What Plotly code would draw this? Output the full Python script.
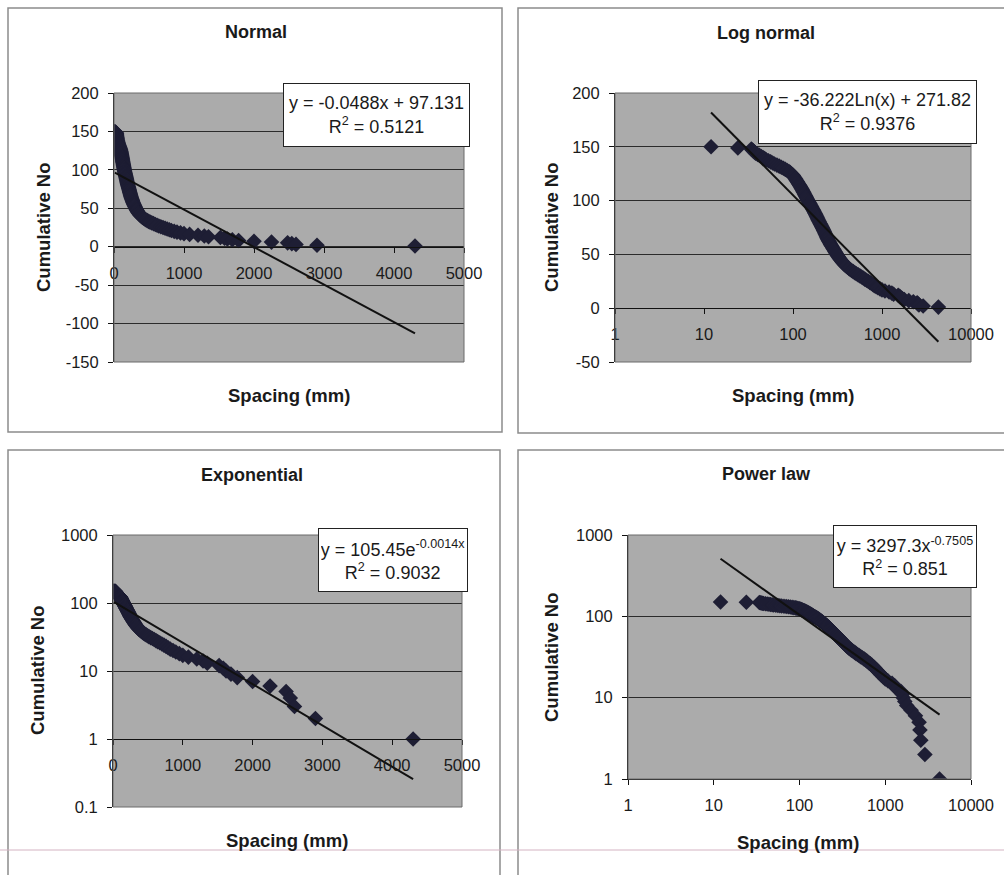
import math
import plotly.graph_objects as go

# ---------------- data ----------------
spacing_mm = [
    12, 24, 34, 35, 36, 37, 38, 40, 42, 44,
    46, 48, 50, 53, 56, 59, 62, 66, 70, 74,
    78, 82, 86, 90, 93, 96, 99, 101, 103, 105,
    107, 109, 111, 113, 115, 117, 119, 121, 123, 125,
    127, 129, 131, 133, 135, 137, 139, 141, 143, 145,
    147, 150, 152, 155, 157, 160, 162, 165, 167, 170,
    172, 175, 177, 180, 182, 185, 187, 190, 192, 195,
    198, 201, 204, 207, 210, 213, 216, 219, 222, 225,
    228, 231, 234, 237, 240, 243, 246, 250, 254, 258,
    262, 266, 270, 275, 280, 285, 290, 295, 300, 305,
    310, 316, 322, 328, 335, 342, 350, 358, 366, 375,
    386, 398, 410, 425, 440, 455, 475, 495, 515, 540,
    565, 590, 615, 640, 670, 700, 730, 760, 790, 820,
    860, 900, 950, 1000, 1080, 1200, 1290, 1350, 1520, 1580,
    1620, 1690, 1780, 2000, 2250, 2480, 2540, 2600, 2900, 4300,
]
cumulative_no = [
    150, 149, 148, 147, 146, 145, 144, 143, 142, 141,
    140, 139, 138, 137, 136, 135, 134, 133, 132, 131,
    130, 129, 128, 127, 126, 125, 124, 123, 122, 121,
    120, 119, 118, 117, 116, 115, 114, 113, 112, 111,
    110, 109, 108, 107, 106, 105, 104, 103, 102, 101,
    100, 99, 98, 97, 96, 95, 94, 93, 92, 91,
    90, 89, 88, 87, 86, 85, 84, 83, 82, 81,
    80, 79, 78, 77, 76, 75, 74, 73, 72, 71,
    70, 69, 68, 67, 66, 65, 64, 63, 62, 61,
    60, 59, 58, 57, 56, 55, 54, 53, 52, 51,
    50, 49, 48, 47, 46, 45, 44, 43, 42, 41,
    40, 39, 38, 37, 36, 35, 34, 33, 32, 31,
    30, 29, 28, 27, 26, 25, 24, 23, 22, 21,
    20, 19, 18, 17, 16, 15, 14, 13, 12, 11,
    10, 9, 8, 7, 6, 5, 4, 3, 2, 1,
]

panel_titles = ["Normal", "Log normal", "Exponential", "Power law"]
x_title = "Spacing (mm)"
y_title = "Cumulative No"

# trend-line coefficients (as printed on the chart)
lin_slope, lin_icpt = -0.0488, 97.131
ln_coef, ln_icpt = -36.222, 271.82
exp_a, exp_b = 105.45, -0.0014
pow_a, pow_b = 3297.3, -0.7505

eq_texts = [
    "y = -0.0488x + 97.131<br>R<sup>2</sup> = 0.5121",
    "y = -36.222Ln(x) + 271.82<br>R<sup>2</sup> = 0.9376",
    "y = 105.45e<sup>-0.0014x</sup><br>R<sup>2</sup> = 0.9032",
    "y = 3297.3x<sup>-0.7505</sup><br>R<sup>2</sup> = 0.851",
]

lin_x_ticks = [0, 1000, 2000, 3000, 4000, 5000]
log_x_ticks = [1, 10, 100, 1000, 10000]
lin_y_ticks = [-150, -100, -50, 0, 50, 100, 150, 200]
lin_y_ticks2 = [-50, 0, 50, 100, 150, 200]
log_y_ticks = [0.1, 1, 10, 100, 1000]
log_y_ticks2 = [1, 10, 100, 1000]

# ---------------- layout helpers ----------------
W, H = 1004, 875
FONT = "Liberation Sans, Arial, sans-serif"
TXT = "#1a1a1a"
PLOT_BG = "#ababab"
GRID = "#2b2b2b"
MARK = "#1e1e34"


def px(x):
    return x / W


def py(y):
    return 1 - y / H


def tl(v):
    return [("-" if t < 0 else "") + f"{abs(t):g}" for t in v]


xmin, xmax = min(spacing_mm), max(spacing_mm)
mk = dict(symbol="diamond", size=12, color=MARK)
ln = dict(color="#111", width=2)

fig = go.Figure()
# panel 1: normal
fig.add_trace(go.Scatter(x=spacing_mm, y=cumulative_no, mode="markers", xaxis="x", yaxis="y", marker=mk))
fig.add_trace(go.Scatter(x=[xmin, xmax], y=[lin_slope * xmin + lin_icpt, lin_slope * xmax + lin_icpt],
                         mode="lines", xaxis="x", yaxis="y", line=ln))
# panel 2: log normal
fig.add_trace(go.Scatter(x=spacing_mm, y=cumulative_no, mode="markers", xaxis="x2", yaxis="y2", marker=mk))
fig.add_trace(go.Scatter(x=[xmin, xmax], y=[ln_coef * math.log(xmin) + ln_icpt, ln_coef * math.log(xmax) + ln_icpt],
                         mode="lines", xaxis="x2", yaxis="y2", line=ln))
# panel 3: exponential
fig.add_trace(go.Scatter(x=spacing_mm, y=cumulative_no, mode="markers", xaxis="x3", yaxis="y3", marker=mk))
fig.add_trace(go.Scatter(x=[xmin, xmax], y=[exp_a * math.exp(exp_b * xmin), exp_a * math.exp(exp_b * xmax)],
                         mode="lines", xaxis="x3", yaxis="y3", line=ln))
# panel 4: power law
fig.add_trace(go.Scatter(x=spacing_mm, y=cumulative_no, mode="markers", xaxis="x4", yaxis="y4", marker=mk))
fig.add_trace(go.Scatter(x=[xmin, xmax], y=[pow_a * xmin ** pow_b, pow_a * xmax ** pow_b],
                         mode="lines", xaxis="x4", yaxis="y4", line=ln))

# plot areas in pixels: (left, right, top, bottom)
areas = [(114, 464, 93, 362), (615, 971, 93, 362), (113, 462, 535, 807), (628, 971, 535, 779)]
doms = [([px(l), px(r)], [py(b), py(t)]) for (l, r, t, b) in areas]


def pos_at(ydom, frac):
    return ydom[0] + frac * (ydom[1] - ydom[0])


tickfont = dict(family=FONT, size=16.5, color=TXT)
common_x = dict(showgrid=False, zeroline=False, showline=True, linecolor="#111", linewidth=1,
                ticks="outside", ticklen=5, tickcolor="#111", tickfont=tickfont, ticklabelstandoff=6,
                automargin=False)
common_y = dict(showgrid=True, gridcolor=GRID, gridwidth=1, zeroline=False, showline=True,
                linecolor="#111", linewidth=1, ticks="outside", ticklen=5, tickcolor="#111",
                tickfont=tickfont, ticklabelstandoff=6, automargin=False)

fig.update_layout(
    xaxis=dict(domain=doms[0][0], range=[0, 5000], tickvals=lin_x_ticks, ticktext=tl(lin_x_ticks),
               anchor="free", position=pos_at(doms[0][1], 150 / 350), **common_x),
    yaxis=dict(domain=doms[0][1], range=[-150, 200], tickvals=lin_y_ticks, ticktext=tl(lin_y_ticks),
               anchor="x", **common_y),
    xaxis2=dict(domain=doms[1][0], type="log", range=[0, 4], tickvals=log_x_ticks, ticktext=tl(log_x_ticks),
                anchor="free", position=pos_at(doms[1][1], 50 / 250), **common_x),
    yaxis2=dict(domain=doms[1][1], range=[-50, 200], tickvals=lin_y_ticks2, ticktext=tl(lin_y_ticks2),
                anchor="x2", **common_y),
    xaxis3=dict(domain=doms[2][0], range=[0, 5000], tickvals=lin_x_ticks, ticktext=tl(lin_x_ticks),
                anchor="free", position=pos_at(doms[2][1], 1 / 4), **common_x),
    yaxis3=dict(domain=doms[2][1], type="log", range=[-1, 3], tickvals=log_y_ticks, ticktext=tl(log_y_ticks),
                anchor="x3", **common_y),
    xaxis4=dict(domain=doms[3][0], type="log", range=[0, 4], tickvals=log_x_ticks, ticktext=tl(log_x_ticks),
                anchor="y4", **common_x),
    yaxis4=dict(domain=doms[3][1], type="log", range=[0, 3], tickvals=log_y_ticks2, ticktext=tl(log_y_ticks2),
                anchor="x4", **common_y),
)

shapes = []
# panel frames
for (l, r, t, b) in [(8, 502, 8, 432), (518, 1010, 8, 433), (8, 500, 450, 885), (518, 1010, 450, 885)]:
    shapes.append(dict(type="rect", xref="paper", yref="paper", x0=px(l), x1=px(r), y0=py(b), y1=py(t),
                       line=dict(color="#8c8c8c", width=1.5), layer="below"))
# plot-area borders
for ax in ["", "2", "3", "4"]:
    shapes.append(dict(type="rect", xref=f"x{ax} domain", yref=f"y{ax} domain", x0=0, x1=1, y0=0, y1=1,
                       line=dict(color="#6a6a6a", width=1), layer="above"))
# faint page line near the bottom
shapes.append(dict(type="line", xref="paper", yref="paper", x0=0, x1=1, y0=py(850), y1=py(850),
                   line=dict(color="#d4b3c2", width=1)))

annotations = []
title_pos = [(256, 32), (766, 33), (252, 475), (766, 474)]
xt_pos = [(289, 395), (793, 395), (287, 840), (798, 842)]
yt_pos = [(43, 227), (551, 227), (37, 670), (551, 657)]
for i in range(4):
    annotations.append(dict(text=f"<b>{panel_titles[i]}</b>", xref="paper", yref="paper",
                            x=px(title_pos[i][0]), y=py(title_pos[i][1]), showarrow=False,
                            xanchor="center", yanchor="middle", font=dict(family=FONT, size=18, color=TXT)))
    annotations.append(dict(text=f"<b>{x_title}</b>", xref="paper", yref="paper",
                            x=px(xt_pos[i][0]), y=py(xt_pos[i][1]), showarrow=False,
                            xanchor="center", yanchor="middle", font=dict(family=FONT, size=18.5, color=TXT)))
    annotations.append(dict(text=f"<b>{y_title}</b>", xref="paper", yref="paper", textangle=-90,
                            x=px(yt_pos[i][0]), y=py(yt_pos[i][1]), showarrow=False,
                            xanchor="center", yanchor="middle", font=dict(family=FONT, size=18.5, color=TXT)))

# equation boxes (left, right, top, bottom)
boxes = [(283, 470, 83, 147), (758, 977, 80, 144), (318, 468, 528, 592), (833, 977, 525, 588)]
for i, (l, r, t, b) in enumerate(boxes):
    annotations.append(dict(text=eq_texts[i], xref="paper", yref="paper", x=px(l), y=py(t),
                            xanchor="left", yanchor="top", showarrow=False, align="center",
                            width=(r - l) - 6, height=(b - t) - 6, borderpad=2, borderwidth=1,
                            bordercolor="#222", bgcolor="white",
                            font=dict(family=FONT, size=18, color=TXT)))

fig.update_layout(
    width=W, height=H, autosize=False, margin=dict(l=0, r=0, t=0, b=0, autoexpand=False),
    paper_bgcolor="white", plot_bgcolor=PLOT_BG, showlegend=False,
    shapes=shapes, annotations=annotations,
)

fig.write_html("out.html", config={"displayModeBar": False},
               post_script="document.body.style.margin='0';document.body.style.padding='0';")
